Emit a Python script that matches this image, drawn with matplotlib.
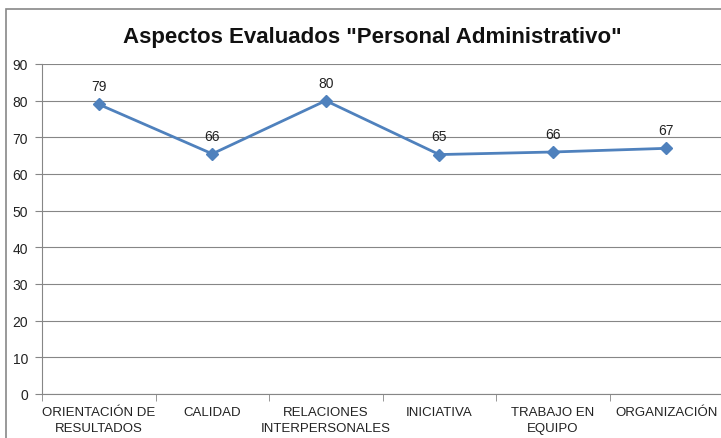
import matplotlib.pyplot as plt
import numpy as np
from matplotlib.patches import Rectangle

categorias = ["ORIENTACIÓN DE\nRESULTADOS", "CALIDAD", "RELACIONES\nINTERPERSONALES",
              "INICIATIVA", "TRABAJO EN\nEQUIPO", "ORGANIZACIÓN"]
valores = [79, 65.5, 80, 65.3, 66, 67]
etiquetas = ["79", "66", "80", "65", "66", "67"]
yticks = [0, 10, 20, 30, 40, 50, 60, 70, 80, 90]

plt.rcParams['font.family'] = ['Liberation Sans', 'DejaVu Sans']

W, H = 721, 439
fig = plt.figure(figsize=(W / 100, H / 100), dpi=100)
ax = fig.add_axes([42 / W, 1 - 395 / H, (723 - 42) / W, (395 - 65) / H])

# marco exterior del grafico
fig.patches.append(Rectangle((6 / W, -0.05), 1.1, 1 - 10 / H + 0.05, transform=fig.transFigure,
                             fill=False, edgecolor='#888888', linewidth=1.2))

x = np.arange(len(categorias))
ax.plot(x, valores, color='#4F81BD', linewidth=2, marker='D', markersize=6,
        markerfacecolor='#4F81BD', markeredgecolor='#4F81BD')
for xi, v, t in zip(x, valores, etiquetas):
    ax.annotate(t, (xi, v), xytext=(0, 8), textcoords='offset points',
                ha='center', va='bottom', fontsize=10, color='#222222')

ax.set_xlim(-0.5, len(categorias) - 0.5)
ax.set_ylim(0, 90)
ax.set_yticks(yticks)
ax.set_xticks(x)
ax.set_xticklabels(categorias, fontsize=9.5, color='#222222', linespacing=1.35)
ax.set_xticks(np.arange(-0.5, len(categorias)), minor=True)
ax.tick_params(axis='x', which='major', length=0, pad=9)
ax.tick_params(axis='x', which='minor', length=5, color='#868686')
ax.tick_params(axis='y', length=5, color='#868686', labelsize=10, labelcolor='#222222', pad=5)
ax.yaxis.grid(True, color='#868686', linewidth=0.8)
ax.set_axisbelow(True)
for s in ['top', 'right']:
    ax.spines[s].set_visible(False)
ax.spines['left'].set_color('#868686')
ax.spines['bottom'].set_color('#868686')

fig.text(0.517, 1 - 37 / H, 'Aspectos Evaluados "Personal Administrativo"', ha='center', va='center',
         fontsize=16, fontweight='bold', color='#111111')

fig.savefig('out.png', dpi=100)
